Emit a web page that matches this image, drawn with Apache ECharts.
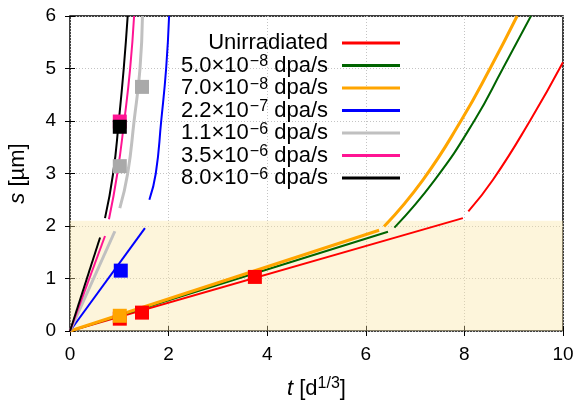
<!DOCTYPE html>
<html>
<head>
<meta charset="utf-8">
<script src="https://cdn.jsdelivr.net/npm/echarts@6/dist/echarts.min.js"></script>
<style>
  html, body { margin: 0; padding: 0; background: #fff; }
  #main { width: 577px; height: 406px; }
</style>
</head>
<body>
<div id="main"></div>
<script>
// s vs t^(1/3): linear part, then the faster part after the break

var names = ['Unirradiated', '5.0e-8', '7.0e-8', '2.2e-7', '1.1e-6', '3.5e-6', '8.0e-6']
var mantissa = ['', '5.0', '7.0', '2.2', '1.1', '3.5', '8.0']
var expo = ['', '\u22128', '\u22128', '\u22127', '\u22126', '\u22126', '\u22126']
var colors = ['#ff0000', '#006400', '#ffa500', '#0000ff', '#c0c0c0', '#ff1493', '#000000']
var markColors = ['#ff0000', '#006400', '#ffa500', '#0000ff', '#a9a9a9', '#ff1493', '#000000']
var widths = [2, 2, 3, 2, 3, 2, 2]

// end of the linear part (it starts at 0,0)
var linEnd = [[7.97, 2.15], [6.45, 1.89], [6.27, 1.92], [1.52, 1.96], [0.91, 1.90], [0.71, 1.81], [0.61, 1.78]]

// upper part
var upper = [
  [[8.08, 2.28], [8.58, 2.88], [9.34, 4.02], [10, 5.12]],
  [[6.58, 1.97], [7.40, 2.88], [8.21, 4.02], [8.78, 5.0], [9.35, 6.0]],
  [[6.37, 1.99], [7.16, 2.88], [7.94, 4.02], [8.52, 5.0], [9.07, 6.0]],
  [[1.61, 2.5], [1.74, 3], [1.85, 4], [1.95, 5], [2.01, 6]],
  [[1.01, 2.34], [1.17, 3], [1.30, 4], [1.42, 5], [1.47, 6]],
  [[0.79, 2.13], [0.96, 3], [1.10, 4], [1.22, 5], [1.30, 6]],
  [[0.71, 2.15], [0.875, 3], [0.99, 4], [1.09, 5], [1.17, 6]]
]

// measured points (squares)
var marks = [
  [[1.01, 0.235], [1.46, 0.35], [3.75, 1.03]],
  [],
  [[1.01, 0.29]],
  [[1.03, 1.15]],
  [[1.01, 3.14], [1.46, 4.65]],
  [[1.01, 3.99]],
  [[1.01, 3.89]]
]

var shadeTop = 2.1

var font = 'Liberation Sans'

var legendText = {}
for (var i = 0; i < names.length; i++) {
  if (i === 0) legendText[names[i]] = '{a|Unirradiated}{g|}'
  else legendText[names[i]] = '{a|' + mantissa[i] + '\u00d710}{s|' + expo[i] + '}{a| dpa/s}{g|}'
}

var series = []
for (var i = 0; i < names.length; i++) {
  var lin = {
    name: names[i],
    type: 'line',
    data: [[0, 0], linEnd[i]],
    symbol: 'none',
    lineStyle: { color: colors[i], width: widths[i] },
    itemStyle: { color: colors[i] },
    z: 3
  }
  if (i === 0) {
    lin.markArea = {
      silent: true,
      itemStyle: { color: 'rgba(250,230,160,0.38)' },
      data: [[{ yAxis: 0 }, { yAxis: shadeTop }]]
    }
  }
  series.push(lin)
  series.push({
    name: names[i],
    type: 'line',
    data: upper[i],
    symbol: 'none',
    smooth: 0.5,
    lineStyle: { color: colors[i], width: widths[i] },
    itemStyle: { color: colors[i] },
    z: 3
  })
}
for (var i = 0; i < names.length; i++) {
  if (!marks[i].length) continue
  series.push({
    name: names[i],
    type: 'scatter',
    data: marks[i],
    symbol: 'rect',
    symbolSize: 14,
    itemStyle: { color: markColors[i], opacity: 1 },
    z: 5 + i
  })
}

var chart = echarts.init(document.getElementById('main'))

var gridLine = { show: true, lineStyle: { color: '#c4c4c4', type: [1, 2], width: 1 } }

var option = {
  animation: false,
  textStyle: { fontFamily: font },
  grid: {
    left: 70, right: 14, top: 16, bottom: 75,
    outerBoundsMode: 'none',
    show: true, borderColor: '#000', borderWidth: 1.5, backgroundColor: 'transparent'
  },
  legend: {
    data: names,
    orient: 'vertical',
    align: 'right',
    right: 172,
    top: 27,
    itemGap: 0,
    itemWidth: 58,
    itemHeight: 3,
    icon: 'rect',
    formatter: function (n) { return legendText[n] },
    textStyle: {
      fontFamily: font,
      rich: {
        a: { fontSize: 22, fontFamily: font, color: '#000', lineHeight: 23 },
        s: { fontSize: 16, fontFamily: font, color: '#000', lineHeight: 23, verticalAlign: 'top', padding: [0, 0, 4, 1] },
        g: { width: 9 }
      }
    }
  },
  xAxis: [{
    type: 'value', min: 0, max: 10, interval: 2,
    axisLine: { show: false },
    axisTick: { show: true, inside: true, length: 5, lineStyle: { color: '#000' } },
    axisLabel: { fontSize: 19, color: '#000', margin: 14, fontFamily: font },
    splitLine: gridLine,
    name: '{i|t} [d{s|1/3}]',
    nameLocation: 'middle',
    nameGap: 45,
    nameTextStyle: {
      rich: {
        i: { fontSize: 22, fontStyle: 'italic', fontFamily: font, color: '#000', lineHeight: 26 },
        s: { fontSize: 16, fontFamily: font, color: '#000', lineHeight: 26, verticalAlign: 'top' }
      },
      fontSize: 22, color: '#000', fontFamily: font, lineHeight: 26
    }
  }, {
    type: 'value', min: 0, max: 10, interval: 2, position: 'top',
    axisLine: { show: false },
    axisTick: { show: true, inside: true, length: 5, lineStyle: { color: '#000' } },
    axisLabel: { show: false }, splitLine: { show: false }
  }],
  yAxis: [{
    type: 'value', min: 0, max: 6, interval: 1,
    axisLine: { show: false },
    axisTick: { show: true, inside: true, length: 5, lineStyle: { color: '#000' } },
    axisLabel: { fontSize: 19, color: '#000', margin: 14, fontFamily: font },
    splitLine: gridLine,
    name: '{i|s} [\u00b5m]',
    nameLocation: 'middle',
    nameGap: 41,
    nameTextStyle: {
      rich: { i: { fontSize: 22, fontStyle: 'italic', fontFamily: font, color: '#000' } },
      fontSize: 22, color: '#000', fontFamily: font
    }
  }, {
    type: 'value', min: 0, max: 6, interval: 1, position: 'right',
    axisLine: { show: false },
    axisTick: { show: true, inside: true, length: 5, lineStyle: { color: '#000' } },
    axisLabel: { show: false }, splitLine: { show: false }
  }],
  series: series
}

chart.setOption(option)
</script>
</body>
</html>
